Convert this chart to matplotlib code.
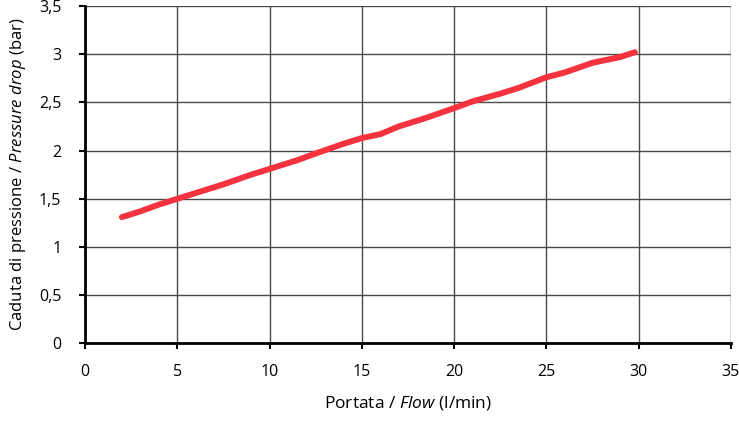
import matplotlib
matplotlib.use("Agg")
import matplotlib.pyplot as plt

plt.rcParams['font.family'] = ['Open Sans', 'DejaVu Sans']
plt.rcParams['mathtext.fontset'] = 'custom'
plt.rcParams['mathtext.rm'] = 'Open Sans'
plt.rcParams['mathtext.it'] = 'Open Sans:italic'

# Data
flow = [2.0, 3.0, 4.0, 5.0, 6.0, 7.5, 9.0, 10.0, 11.5, 12.5, 14.0, 15.0, 16.0,
        17.0, 18.5, 20.0, 21.0, 22.5, 23.5, 25.0, 26.0, 27.5, 29.0, 29.8]
pressure = [1.31, 1.37, 1.44, 1.50, 1.56, 1.65, 1.75, 1.81, 1.90, 1.97, 2.07,
            2.13, 2.17, 2.25, 2.34, 2.44, 2.51, 2.59, 2.65, 2.76, 2.81, 2.91,
            2.97, 3.02]

x_ticks = [0, 5, 10, 15, 20, 25, 30, 35]
y_ticks = [0, 0.5, 1, 1.5, 2, 2.5, 3, 3.5]
y_tick_labels = ['0', '0,5', '1', '1,5', '2', '2,5', '3', '3,5']

fig = plt.figure(figsize=(7.39, 4.23), dpi=100)
ax = fig.add_axes([0.115, 0.188, 0.874, 0.798])

ax.plot(flow, pressure, color='#f5333f', linewidth=4.3,
        solid_capstyle='round', zorder=3)

ax.set_xlim(0, 35)
ax.set_ylim(0, 3.5)
ax.set_xticks(x_ticks)
ax.set_xticklabels([str(t) for t in x_ticks])
ax.set_yticks(y_ticks)
ax.set_yticklabels(y_tick_labels)

ax.grid(True, color='#4a4a4a', linewidth=1.0)
ax.set_axisbelow(True)
for side in ['top', 'right']:
    ax.spines[side].set_visible(False)
for side in ['left', 'bottom']:
    ax.spines[side].set_linewidth(2.0)
    ax.spines[side].set_color('black')

ax.tick_params(axis='x', length=4, width=1.5, pad=11, labelsize=11.5)
ax.tick_params(axis='y', length=4, width=1.5, pad=13, labelsize=11.5)

ax.set_xlabel(r'Portata / $\mathit{Flow}$ (l/min)', fontsize=12.5, labelpad=10)
ax.set_ylabel(r'Caduta di pressione / $\mathit{Pressure\ drop}$ (bar)',
              fontsize=12, labelpad=8)

fig.savefig('out.png', dpi=100)
